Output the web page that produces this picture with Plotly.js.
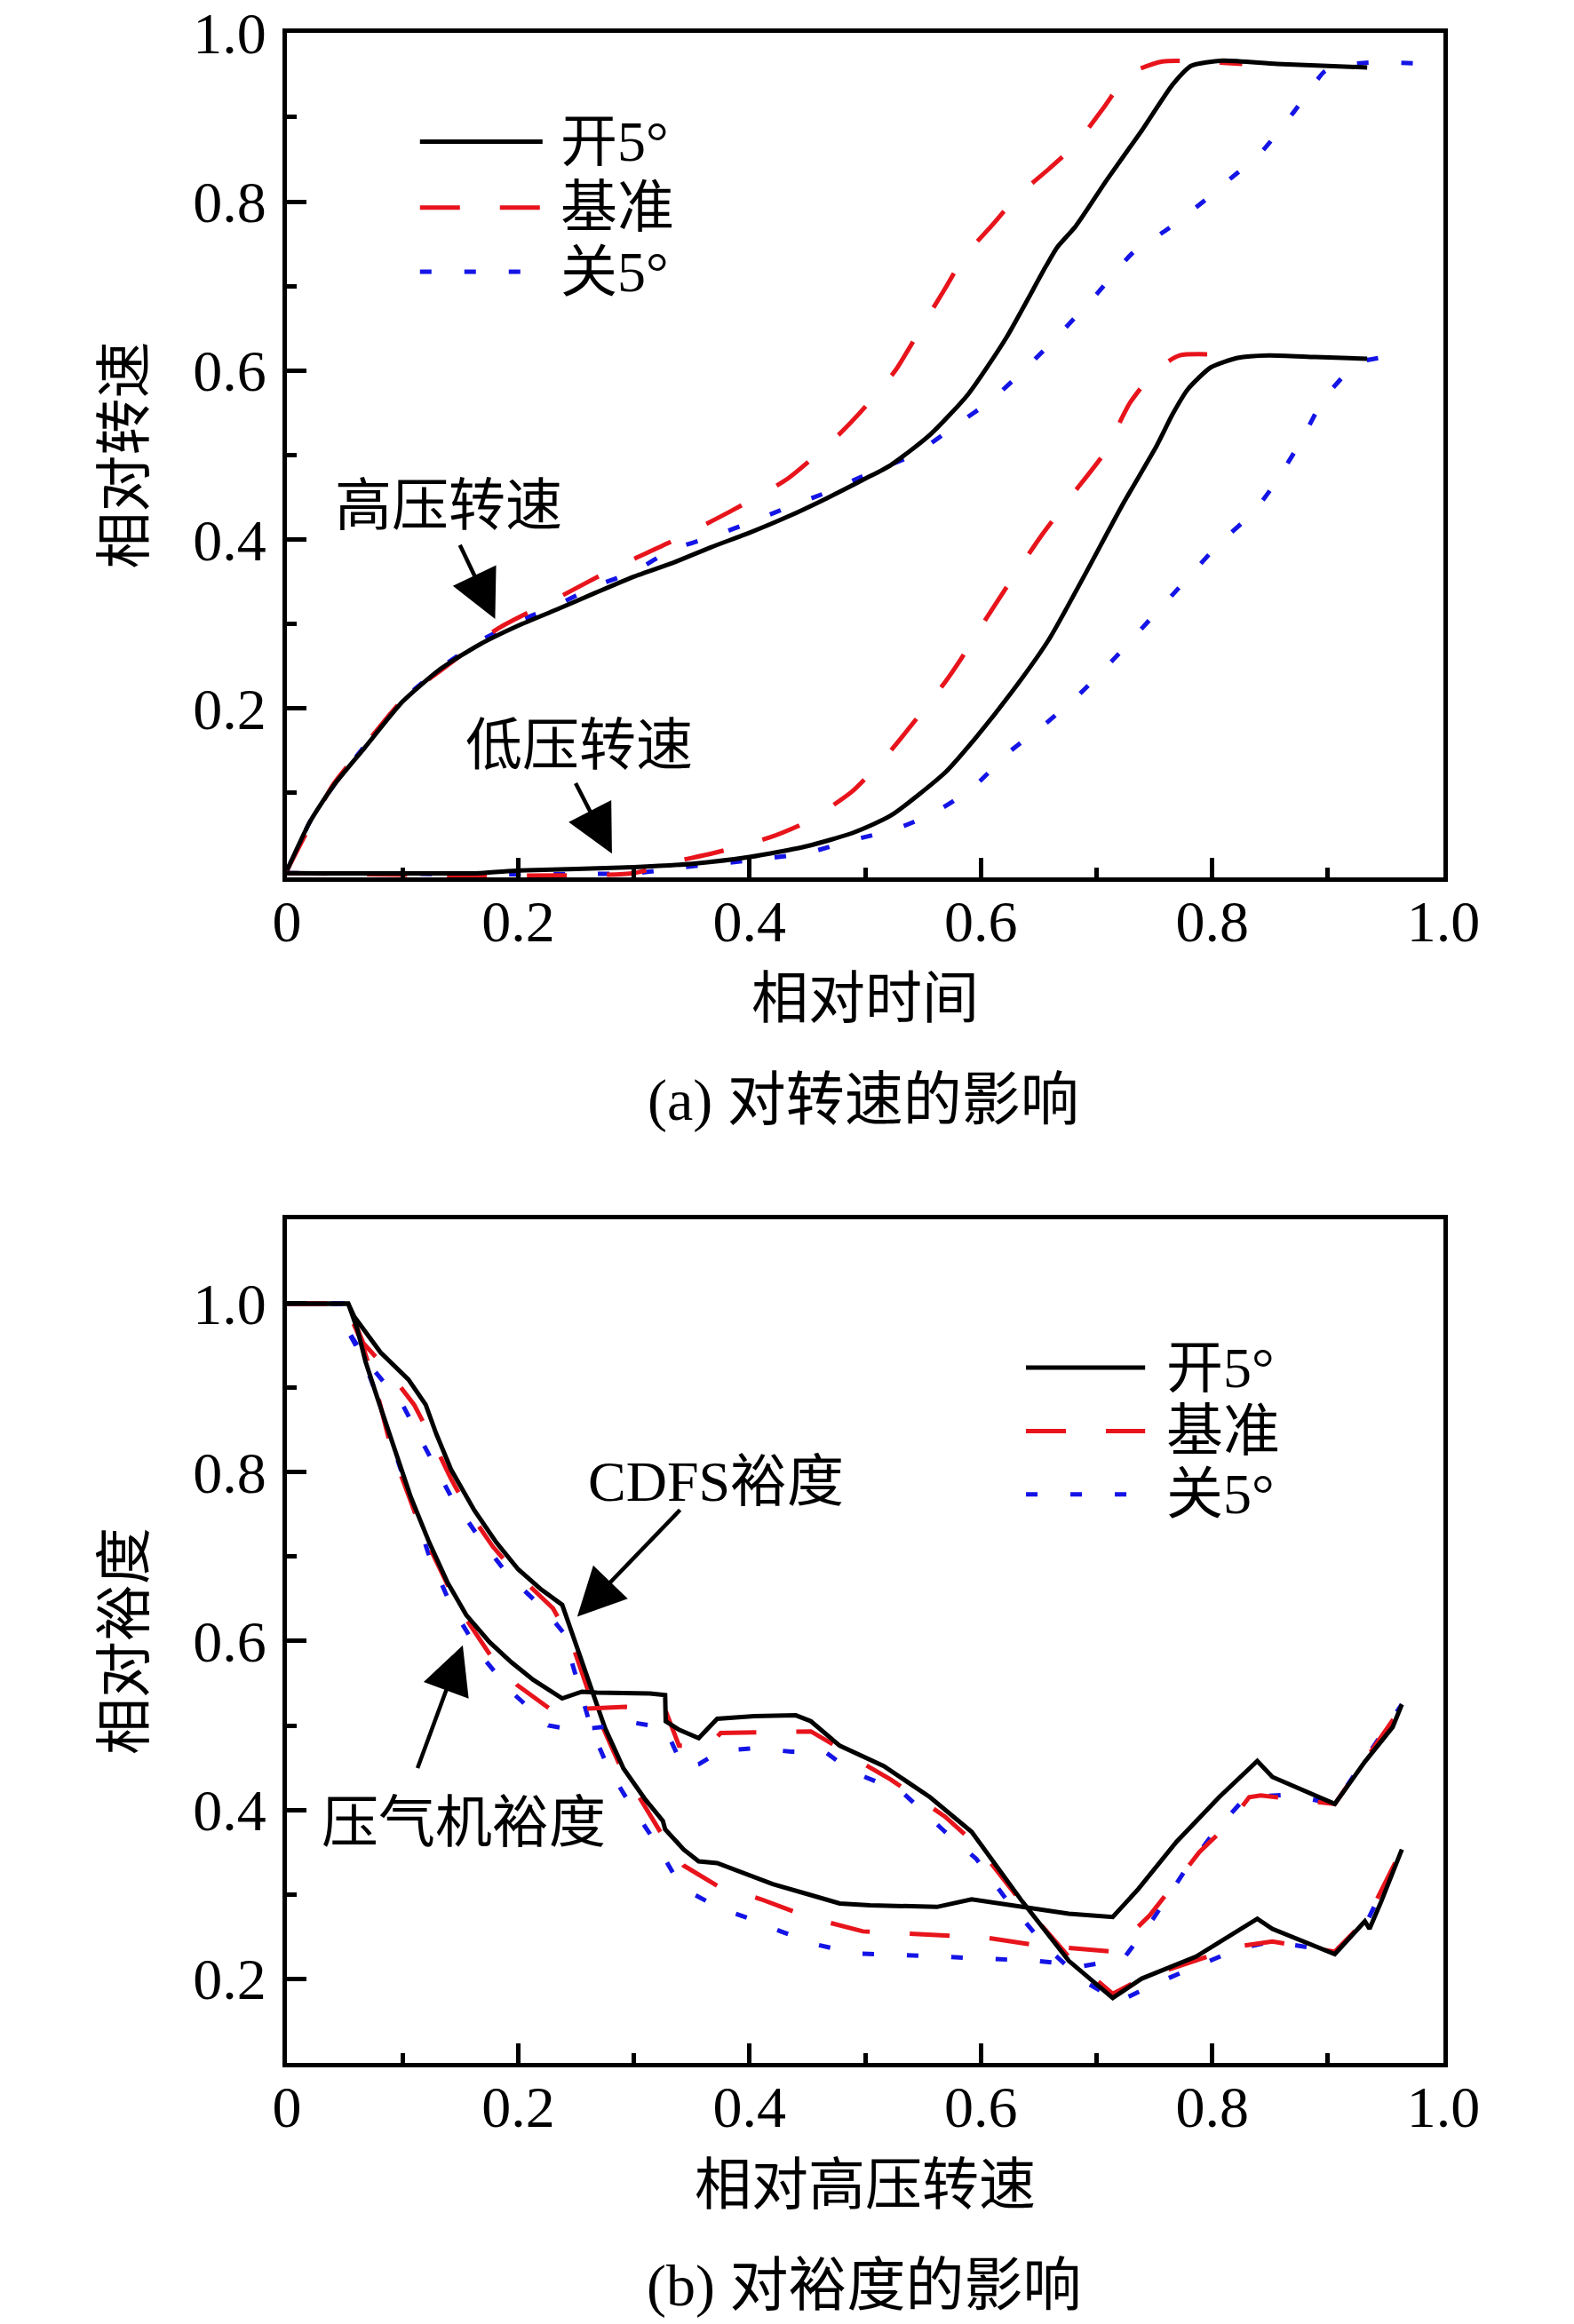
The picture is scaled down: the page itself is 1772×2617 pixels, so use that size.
<!DOCTYPE html>
<html>
<head>
<meta charset="utf-8">
<script src="https://cdn.plot.ly/plotly-3.0.1.min.js"></script>
<style>
  body { margin: 0; background: #fff; }
  #chart { width: 1772px; height: 2617px; }
</style>
</head>
<body>
<div id="chart"></div>
<script>
// (a) relative spool speed vs relative time
var hpOpenX  = [0, 0.02, 0.04, 0.067, 0.1, 0.133, 0.167, 0.2, 0.233, 0.267, 0.3, 0.333, 0.367, 0.4, 0.433, 0.467, 0.5, 0.522, 0.556, 0.589, 0.622, 0.656, 0.666, 0.682, 0.709, 0.739, 0.766, 0.782, 0.809, 0.856, 0.934];
var hpOpenY  = [0.008, 0.066, 0.108, 0.153, 0.208, 0.247, 0.276, 0.298, 0.317, 0.337, 0.356, 0.372, 0.391, 0.408, 0.427, 0.449, 0.472, 0.488, 0.524, 0.572, 0.639, 0.723, 0.746, 0.771, 0.826, 0.884, 0.939, 0.961, 0.967, 0.963, 0.959];
var hpBaseX  = [0, 0.017, 0.04, 0.067, 0.1, 0.133, 0.183, 0.233, 0.283, 0.333, 0.383, 0.433, 0.477, 0.5, 0.526, 0.549, 0.569, 0.586, 0.609, 0.632, 0.659, 0.682, 0.707, 0.727, 0.757, 0.826];
var hpBaseY  = [0.008, 0.053, 0.11, 0.156, 0.21, 0.245, 0.295, 0.33, 0.366, 0.398, 0.433, 0.472, 0.524, 0.557, 0.6, 0.652, 0.697, 0.736, 0.771, 0.807, 0.839, 0.868, 0.913, 0.95, 0.966, 0.963];
var hpCloseX = [0, 0.02, 0.04, 0.067, 0.1, 0.133, 0.167, 0.2, 0.233, 0.267, 0.3, 0.333, 0.367, 0.4, 0.433, 0.467, 0.506, 0.543, 0.576, 0.609, 0.642, 0.672, 0.701, 0.731, 0.762, 0.794, 0.812, 0.842, 0.871, 0.897, 0.909, 0.942, 0.989];
var hpCloseY = [0.008, 0.066, 0.108, 0.155, 0.21, 0.248, 0.28, 0.303, 0.322, 0.345, 0.362, 0.388, 0.403, 0.42, 0.438, 0.456, 0.48, 0.501, 0.533, 0.565, 0.607, 0.649, 0.692, 0.739, 0.768, 0.802, 0.823, 0.858, 0.907, 0.954, 0.961, 0.965, 0.963];

var lpOpenX  = [0, 0.167, 0.2, 0.3, 0.35, 0.4, 0.45, 0.49, 0.522, 0.569, 0.596, 0.626, 0.659, 0.689, 0.722, 0.752, 0.766, 0.779, 0.799, 0.822, 0.849, 0.889, 0.934];
var lpOpenY  = [0.005, 0.005, 0.008, 0.012, 0.016, 0.024, 0.037, 0.053, 0.073, 0.124, 0.166, 0.218, 0.282, 0.356, 0.44, 0.511, 0.549, 0.578, 0.604, 0.615, 0.618, 0.616, 0.614];
var lpBaseX  = [0, 0.3, 0.333, 0.367, 0.417, 0.45, 0.489, 0.522, 0.569, 0.583, 0.596, 0.622, 0.652, 0.679, 0.706, 0.729, 0.752, 0.772, 0.822];
var lpBaseY  = [0.005, 0.005, 0.018, 0.028, 0.047, 0.066, 0.102, 0.15, 0.231, 0.259, 0.288, 0.343, 0.404, 0.453, 0.501, 0.562, 0.601, 0.618, 0.618];
var lpCloseX = [0, 0.3, 0.343, 0.4, 0.45, 0.489, 0.526, 0.559, 0.592, 0.626, 0.656, 0.686, 0.716, 0.746, 0.776, 0.806, 0.836, 0.854, 0.877, 0.896, 0.926, 0.962];
var lpCloseY = [0.005, 0.005, 0.012, 0.02, 0.029, 0.044, 0.057, 0.076, 0.105, 0.15, 0.182, 0.218, 0.26, 0.305, 0.35, 0.395, 0.433, 0.466, 0.517, 0.565, 0.609, 0.618];

// (b) relative margin vs relative HP speed
var cdfsOpenX  = [0, 0.053, 0.058, 0.081, 0.105, 0.12, 0.129, 0.142, 0.162, 0.181, 0.2, 0.22, 0.238, 0.249, 0.262, 0.275, 0.291, 0.31, 0.325, 0.327, 0.343, 0.356, 0.372, 0.388, 0.42, 0.453, 0.478, 0.504, 0.562, 0.592, 0.629, 0.676, 0.714, 0.736, 0.769, 0.806, 0.839, 0.852, 0.906, 0.932, 0.956, 0.964];
var cdfsOpenY  = [1.0, 1.0, 0.985, 0.942, 0.91, 0.88, 0.846, 0.803, 0.755, 0.717, 0.685, 0.661, 0.643, 0.599, 0.546, 0.497, 0.449, 0.412, 0.387, 0.377, 0.353, 0.339, 0.337, 0.329, 0.312, 0.299, 0.289, 0.287, 0.285, 0.294, 0.287, 0.277, 0.273, 0.306, 0.362, 0.415, 0.458, 0.439, 0.407, 0.457, 0.498, 0.525];
var cdfsBaseX  = [0, 0.05, 0.058, 0.066, 0.086, 0.11, 0.123, 0.142, 0.158, 0.178, 0.197, 0.23, 0.246, 0.262, 0.275, 0.291, 0.306, 0.325, 0.343, 0.372, 0.41, 0.453, 0.498, 0.532, 0.602, 0.646, 0.714, 0.746, 0.789, 0.814, 0.832, 0.842, 0.871, 0.906, 0.964];
var cdfsBaseY  = [1.0, 1.0, 0.98, 0.953, 0.923, 0.88, 0.846, 0.792, 0.752, 0.712, 0.682, 0.639, 0.599, 0.535, 0.492, 0.443, 0.412, 0.369, 0.334, 0.31, 0.294, 0.272, 0.256, 0.254, 0.249, 0.24, 0.232, 0.275, 0.35, 0.383, 0.415, 0.417, 0.412, 0.407, 0.522];
var cdfsCloseX = [0, 0.048, 0.052, 0.074, 0.1, 0.126, 0.142, 0.165, 0.192, 0.223, 0.239, 0.247, 0.263, 0.278, 0.297, 0.318, 0.336, 0.349, 0.375, 0.398, 0.427, 0.459, 0.491, 0.566, 0.649, 0.689, 0.723, 0.749, 0.776, 0.802, 0.829, 0.866, 0.906, 0.964];
var cdfsCloseY = [1.0, 1.0, 0.969, 0.923, 0.88, 0.814, 0.771, 0.725, 0.677, 0.637, 0.61, 0.572, 0.497, 0.449, 0.406, 0.363, 0.32, 0.302, 0.283, 0.272, 0.256, 0.24, 0.23, 0.226, 0.221, 0.215, 0.223, 0.271, 0.327, 0.374, 0.415, 0.418, 0.407, 0.525];

var compOpenX  = [0, 0.053, 0.061, 0.068, 0.078, 0.091, 0.107, 0.123, 0.139, 0.155, 0.175, 0.194, 0.213, 0.238, 0.255, 0.268, 0.314, 0.327, 0.3275, 0.339, 0.356, 0.372, 0.404, 0.44, 0.453, 0.478, 0.501, 0.516, 0.556, 0.592, 0.636, 0.676, 0.714, 0.739, 0.786, 0.839, 0.852, 0.906, 0.932, 0.936, 0.946, 0.964];
var compOpenY  = [1.0, 1.0, 0.969, 0.931, 0.889, 0.835, 0.771, 0.717, 0.669, 0.631, 0.599, 0.575, 0.554, 0.532, 0.54, 0.539, 0.538, 0.536, 0.505, 0.495, 0.485, 0.508, 0.511, 0.512, 0.505, 0.476, 0.462, 0.452, 0.415, 0.374, 0.291, 0.221, 0.177, 0.2, 0.226, 0.271, 0.259, 0.229, 0.268, 0.259, 0.291, 0.353];
var compBaseX  = [0, 0.05, 0.058, 0.065, 0.078, 0.091, 0.11, 0.123, 0.142, 0.155, 0.176, 0.199, 0.231, 0.26, 0.293, 0.327, 0.339, 0.365, 0.375, 0.42, 0.453, 0.478, 0.498, 0.522, 0.569, 0.596, 0.636, 0.676, 0.714, 0.739, 0.822, 0.852, 0.906, 0.934, 0.964];
var compBaseY  = [1.0, 1.0, 0.975, 0.953, 0.894, 0.824, 0.755, 0.712, 0.658, 0.626, 0.583, 0.548, 0.516, 0.52, 0.522, 0.519, 0.476, 0.476, 0.491, 0.492, 0.493, 0.473, 0.455, 0.436, 0.392, 0.359, 0.289, 0.226, 0.182, 0.2, 0.238, 0.244, 0.232, 0.271, 0.353];
var compCloseX = [0, 0.048, 0.052, 0.065, 0.074, 0.087, 0.097, 0.11, 0.123, 0.142, 0.168, 0.194, 0.226, 0.246, 0.265, 0.301, 0.327, 0.343, 0.356, 0.375, 0.404, 0.436, 0.466, 0.489, 0.532, 0.569, 0.596, 0.622, 0.656, 0.689, 0.719, 0.756, 0.822, 0.852, 0.906, 0.934, 0.964];
var compCloseY = [1.0, 1.0, 0.969, 0.937, 0.905, 0.851, 0.808, 0.755, 0.701, 0.642, 0.583, 0.54, 0.5, 0.495, 0.497, 0.503, 0.497, 0.449, 0.454, 0.47, 0.473, 0.469, 0.468, 0.445, 0.421, 0.374, 0.342, 0.294, 0.238, 0.197, 0.173, 0.197, 0.235, 0.244, 0.232, 0.268, 0.353];

var seriesNames = ['开5°', '基准', '关5°'];
var tickVals = [0, 0.2, 0.4, 0.6, 0.8, 1.0];
var tickText = ['0', '0.2', '0.4', '0.6', '0.8', '1.0'];
var minorVals = [0.1, 0.3, 0.5, 0.7, 0.9];

var FONT = '"Liberation Serif", "Times New Roman", "Noto Sans CJK SC", serif';
var styles = [
  {color: '#000000', dash: 'solid'},
  {color: '#e8141c', dash: '45px,45px'},
  {color: '#1414e6', dash: '13px,37px'}
];

// speed curves in (a) are smooth, margin curves in (b) have sharp corners
function line(x, y, k, xa, ya) {
  var smooth = xa === 'x';
  return {
    x: x, y: y, xaxis: xa, yaxis: ya,
    type: 'scatter', mode: 'lines', name: seriesNames[k], showlegend: false,
    line: {color: styles[k].color, dash: styles[k].dash, width: 5,
      shape: smooth ? 'spline' : 'linear', smoothing: smooth ? 0.6 : 0}
  };
}

var data = [
  line(hpCloseX, hpCloseY, 2, 'x', 'y'),
  line(hpBaseX, hpBaseY, 1, 'x', 'y'),
  line(hpOpenX, hpOpenY, 0, 'x', 'y'),
  line(lpCloseX, lpCloseY, 2, 'x', 'y'),
  line(lpBaseX, lpBaseY, 1, 'x', 'y'),
  line(lpOpenX, lpOpenY, 0, 'x', 'y'),
  line(cdfsCloseX, cdfsCloseY, 2, 'x2', 'y2'),
  line(cdfsBaseX, cdfsBaseY, 1, 'x2', 'y2'),
  line(cdfsOpenX, cdfsOpenY, 0, 'x2', 'y2'),
  line(compCloseX, compCloseY, 2, 'x2', 'y2'),
  line(compBaseX, compBaseY, 1, 'x2', 'y2'),
  line(compOpenX, compOpenY, 0, 'x2', 'y2')
];

function xAxis(domain, anchor, title) {
  return {
    domain: domain, anchor: anchor, range: [0, 1],
    showgrid: false, zeroline: false,
    showline: true, mirror: true, linecolor: '#000', linewidth: 5,
    ticks: 'inside', ticklen: 22, tickwidth: 5, tickcolor: '#000',
    tickmode: 'array', tickvals: tickVals, ticktext: tickText,
    ticklabelstandoff: -12,
    minor: {tickmode: 'array', tickvals: minorVals, ticks: 'inside', ticklen: 11, tickwidth: 5, tickcolor: '#000'},
    tickfont: {family: FONT, size: 66, color: '#000'},
    title: {text: title, standoff: 30, font: {family: FONT, size: 64, color: '#000'}}
  };
}

function yAxis(domain, anchor, range, title) {
  return {
    domain: domain, anchor: anchor, range: range,
    showgrid: false, zeroline: false,
    showline: true, mirror: true, linecolor: '#000', linewidth: 5,
    ticks: 'inside', ticklen: 22, tickwidth: 5, tickcolor: '#000',
    tickmode: 'array', tickvals: tickVals.slice(1), ticktext: tickText.slice(1),
    ticklabelstandoff: 5,
    minor: {tickmode: 'array', tickvals: minorVals, ticks: 'inside', ticklen: 11, tickwidth: 5, tickcolor: '#000'},
    tickfont: {family: FONT, size: 66, color: '#000'},
    title: {text: title, standoff: 35, font: {family: FONT, size: 64, color: '#000'}}
  };
}

// legend drawn by hand: long line samples next to the labels
function legend(xr, yr, x0, x1, xt, rows) {
  var shapes = [], notes = [];
  for (var k = 0; k < 3; k++) {
    shapes.push({type: 'line', xref: xr, yref: yr, x0: x0, x1: x1, y0: rows[k], y1: rows[k],
      line: {color: styles[k].color, dash: styles[k].dash, width: 5}});
    notes.push({xref: xr, yref: yr, x: xt, y: rows[k], xanchor: 'left', yanchor: 'middle',
      text: seriesNames[k], showarrow: false, font: {family: FONT, size: 64, color: '#000'}});
  }
  return {shapes: shapes, notes: notes};
}

function label(xr, yr, x, y, text) {
  return {xref: xr, yref: yr, x: x, y: y, text: text, showarrow: false,
    xanchor: 'center', yanchor: 'middle', font: {family: FONT, size: 64, color: '#000'}};
}

function arrow(xr, yr, tx, ty, hx, hy) {
  return {xref: xr, yref: yr, axref: xr, ayref: yr, x: hx, y: hy, ax: tx, ay: ty,
    text: '', showarrow: true, arrowhead: 2, arrowsize: 2.4, arrowwidth: 4.5, arrowcolor: '#000', standoff: 0};
}

var legA = legend('x', 'y', 0.115, 0.221, 0.235, [0.871, 0.793, 0.717]);
var legB = legend('x2', 'y2', 0.639, 0.742, 0.759, [0.924, 0.849, 0.774]);

var annotations = [].concat(legA.notes, legB.notes, [
  label('x', 'y', 0.14, 0.44, '高压转速'),
  arrow('x', 'y', 0.149, 0.395, 0.18, 0.306),
  label('x', 'y', 0.253, 0.156, '低压转速'),
  arrow('x', 'y', 0.249, 0.113, 0.281, 0.028),
  label('x2', 'y2', 0.371, 0.789, 'CDFS裕度'),
  arrow('x2', 'y2', 0.341, 0.757, 0.251, 0.629),
  label('x2', 'y2', 0.153, 0.385, '压气机裕度'),
  arrow('x2', 'y2', 0.1125, 0.448, 0.152, 0.595),
  {xref: 'paper', yref: 'paper', x: 0.5486, y: 0.5265, text: '(a) 对转速的影响', showarrow: false,
    xanchor: 'center', yanchor: 'middle', font: {family: FONT, size: 66, color: '#000'}},
  {xref: 'paper', yref: 'paper', x: 0.5486, y: 0.0166, text: '(b) 对裕度的影响', showarrow: false,
    xanchor: 'center', yanchor: 'middle', font: {family: FONT, size: 66, color: '#000'}}
]);

var layout = {
  width: 1772,
  height: 2617,
  margin: {l: 0, r: 0, t: 0, b: 0},
  paper_bgcolor: '#fff',
  plot_bgcolor: '#fff',
  showlegend: false,
  xaxis: xAxis([0.1823, 0.9171], 'y', '相对时间'),
  yaxis: yAxis([0.6225, 0.9859], 'x', [0, 1], '相对转速'),
  xaxis2: xAxis([0.1823, 0.9171], 'y2', '相对高压转速'),
  yaxis2: yAxis([0.1123, 0.4754], 'x2', [0.1, 1.1], '相对裕度'),
  shapes: legA.shapes.concat(legB.shapes),
  annotations: annotations
};

Plotly.newPlot('chart', data, layout, {staticPlot: true});
</script>
</body>
</html>
